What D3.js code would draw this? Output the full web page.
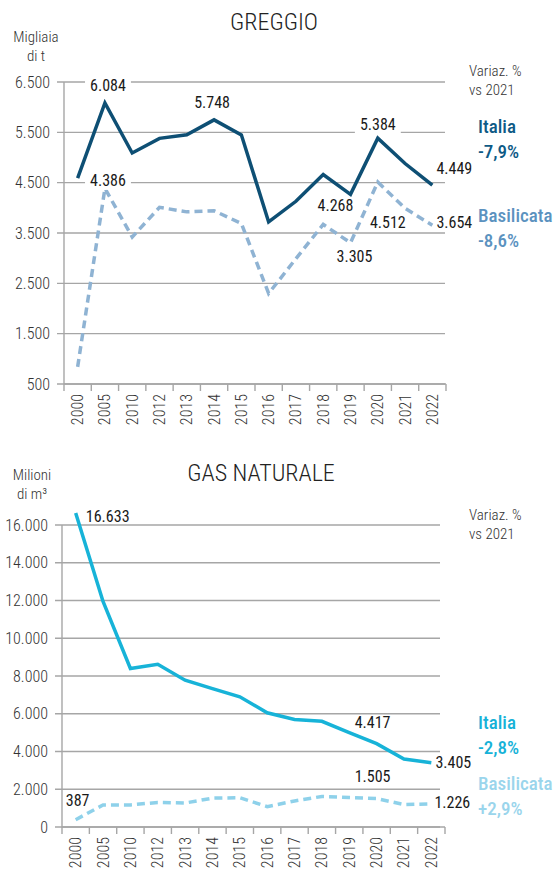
<!DOCTYPE html>
<html>
<head>
<meta charset="utf-8">
<script src="https://cdn.jsdelivr.net/npm/d3@7"></script>
<style>
  body { margin: 0; background: #fff; }
  svg text { font-family: "Roboto Condensed", "Liberation Sans Narrow", Roboto, sans-serif; }
</style>
</head>
<body>
<div id="vis"></div>
<script>
// anni (uguali per i due grafici)
const years = ["2000","2005","2010","2012","2013","2014","2015","2016","2017","2018","2019","2020","2021","2022"];

// GREGGIO, migliaia di t
const crudeItalia     = [4590, 6084, 5090, 5380, 5450, 5748, 5450, 3720, 4130, 4660, 4268, 5384, 4880, 4449];
const crudeBasilicata = [840, 4386, 3420, 4010, 3920, 3940, 3690, 2300, 2990, 3670, 3305, 4512, 3990, 3654];
const crudeTicks = [500, 1500, 2500, 3500, 4500, 5500, 6500];

// GAS NATURALE, milioni di m3
const gasItalia     = [16633, 11950, 8400, 8620, 7780, 7330, 6900, 6050, 5700, 5600, 5000, 4417, 3600, 3405];
const gasBasilicata = [387, 1170, 1170, 1300, 1270, 1530, 1550, 1080, 1380, 1620, 1560, 1505, 1190, 1226];
const gasTicks = [0, 2000, 4000, 6000, 8000, 10000, 12000, 14000, 16000];

// variazioni 2022 vs 2021
const crudeChange = ["-7,9%", "-8,6%"];
const gasChange   = ["-2,8%", "+2,9%"];

const width = 557;
const height = 879;
const it = d3.formatLocale({decimal: ",", thousands: ".", grouping: [3], currency: ["", "€"]});
const fmt = it.format(",");

const svg = d3.select("#vis").append("svg")
  .attr("width", width).attr("height", height)
  .attr("viewBox", [0, 0, width, height]);

function drawPanel(p) {
  const g = svg.append("g");

  const x = d3.scaleBand().domain(years).range([p.x0, p.x1]);
  const y = d3.scaleLinear().domain(p.domain).range([p.y0, p.y1]);
  const cx = d => x(d) + x.bandwidth() / 2;

  // titolo e unità
  g.append("text").text(p.title)
    .attr("x", p.titleX).attr("y", p.titleY)
    .attr("text-anchor", "middle").attr("dominant-baseline", "central")
    .style("font-size", "24px").style("font-weight", 300).attr("fill", "#222");

  p.unit.forEach((t, i) => {
    g.append("text").text(t)
      .attr("x", p.unitX).attr("y", p.unitY + i * 19)
      .attr("text-anchor", "middle").attr("dominant-baseline", "central")
      .style("font-size", "15px").style("font-weight", 300).attr("fill", "#333");
  });

  // griglia
  g.selectAll(".grid").data(p.ticks).join("line")
    .attr("x1", p.x0 - 7).attr("x2", p.gridEnd)
    .attr("y1", d => y(d)).attr("y2", d => y(d))
    .attr("stroke", "#a6a6a6").attr("stroke-width", 1.4);

  g.selectAll(".ylab").data(p.ticks).join("text")
    .text(d => fmt(d))
    .attr("x", p.x0 - 14).attr("y", d => y(d))
    .attr("text-anchor", "end").attr("dominant-baseline", "central")
    .style("font-size", "16px").style("font-weight", 300).attr("fill", "#333");

  // assi
  g.append("line").attr("x1", p.x0).attr("x2", p.x0)
    .attr("y1", y(p.domain[1])).attr("y2", y(p.domain[0]))
    .attr("stroke", "#a6a6a6").attr("stroke-width", 1.4);
  g.append("line").attr("x1", p.x0).attr("x2", p.x1)
    .attr("y1", p.y0).attr("y2", p.y0)
    .attr("stroke", "#a6a6a6").attr("stroke-width", 1.4);

  const bounds = years.map(d => x(d)).concat([p.x1]);
  g.selectAll(".xtick").data(bounds).join("line")
    .attr("x1", d => d).attr("x2", d => d)
    .attr("y1", p.y0).attr("y2", p.y0 + 7)
    .attr("stroke", "#a6a6a6").attr("stroke-width", 1.4);

  g.selectAll(".xlab").data(years).join("text")
    .text(d => d)
    .attr("transform", d => `translate(${cx(d)},${p.y0 + 10}) rotate(-90)`)
    .attr("text-anchor", "end").attr("dominant-baseline", "central")
    .style("font-size", "16px").style("font-weight", 300).attr("fill", "#333");

  // linee
  const line = d3.line().x((d, i) => cx(years[i])).y(d => y(d));

  g.append("path").datum(p.basil)
    .attr("d", line).attr("fill", "none")
    .attr("stroke", p.basilColor).attr("stroke-width", 3.5)
    .attr("stroke-dasharray", "8,5");

  g.append("path").datum(p.italia)
    .attr("d", line).attr("fill", "none")
    .attr("stroke", p.italiaColor).attr("stroke-width", 3.5)
    .attr("stroke-linejoin", "miter");

  // etichette valori
  p.labels.forEach(l => {
    const vals = l.s === "i" ? p.italia : p.basil;
    const i = years.indexOf(l.year);
    const lx = cx(l.year) + l.dx;
    const ly = y(vals[i]) + l.dy;
    const t = g.append("text").text(fmt(vals[i]))
      .attr("x", lx).attr("y", ly)
      .attr("text-anchor", "middle").attr("dominant-baseline", "central")
      .style("font-size", "16px").attr("fill", "#1a1a1a");
    if (l.bg) {
      const b = t.node().getBBox();
      g.insert("rect", () => t.node())
        .attr("x", b.x - 5).attr("y", b.y).attr("width", b.width + 10).attr("height", b.height)
        .attr("fill", "#fff");
    }
  });

  // legenda
  ["Variaz. %", "vs 2021"].forEach((t, i) => {
    g.append("text").text(t)
      .attr("x", 469).attr("y", p.varY + i * 19)
      .attr("dominant-baseline", "central")
      .style("font-size", "15px").style("font-weight", 300).attr("fill", "#333");
  });
  [["Italia", p.change[0], p.italiaText, p.legItaliaY],
   ["Basilicata", p.change[1], p.basilText, p.legBasilY]].forEach(r => {
    g.append("text").text(r[0])
      .attr("x", 478).attr("y", r[3])
      .attr("dominant-baseline", "central")
      .style("font-size", "19px").style("font-weight", 500).attr("fill", r[2]);
    g.append("text").text(r[1])
      .attr("x", 478).attr("y", r[3] + 25)
      .attr("dominant-baseline", "central")
      .style("font-size", "19px").style("font-weight", 500).attr("fill", r[2]);
  });
}

drawPanel({
  title: "GREGGIO", titleX: 274, titleY: 22,
  unit: ["Migliaia", "di t"], unitX: 36, unitY: 37,
  x0: 64, x1: 446, gridEnd: 445,
  y0: 384, y1: 82, domain: [500, 6500], ticks: crudeTicks,
  italia: crudeItalia, basil: crudeBasilicata,
  italiaColor: "#0e4f74", basilColor: "#8fb3d3",
  italiaText: "#0e5a86", basilText: "#5b92bf",
  change: crudeChange, varY: 71, legItaliaY: 126, legBasilY: 215,
  labels: [
    {s: "i", year: "2005", dx: 3, dy: -17, bg: true},
    {s: "i", year: "2014", dx: -2, dy: -17},
    {s: "i", year: "2020", dx: 0, dy: -14, bg: true},
    {s: "i", year: "2022", dx: 22, dy: -17},
    {s: "i", year: "2019", dx: -15, dy: 11},
    {s: "b", year: "2005", dx: 3, dy: -8, bg: true},
    {s: "b", year: "2020", dx: 10, dy: 40},
    {s: "b", year: "2022", dx: 22, dy: -3},
    {s: "b", year: "2019", dx: 4, dy: 14}
  ]
});

drawPanel({
  title: "GAS NATURALE", titleX: 261, titleY: 473,
  unit: ["Milioni", "di m\u00b3"], unitX: 32, unitY: 475,
  x0: 62, x1: 445, gridEnd: 440,
  y0: 827, y1: 525, domain: [0, 16000], ticks: gasTicks,
  italia: gasItalia, basil: gasBasilicata,
  italiaColor: "#17b3d8", basilColor: "#8ed1ea",
  italiaText: "#16b2d8", basilText: "#9ad5ec",
  change: gasChange, varY: 515, legItaliaY: 722, legBasilY: 783,
  labels: [
    {s: "i", year: "2000", dx: 32, dy: 3},
    {s: "i", year: "2020", dx: -4, dy: -21},
    {s: "i", year: "2022", dx: 22, dy: 0},
    {s: "b", year: "2000", dx: 2, dy: -19},
    {s: "b", year: "2020", dx: -4, dy: -22},
    {s: "b", year: "2022", dx: 21, dy: -1}
  ]
});
</script>
</body>
</html>
